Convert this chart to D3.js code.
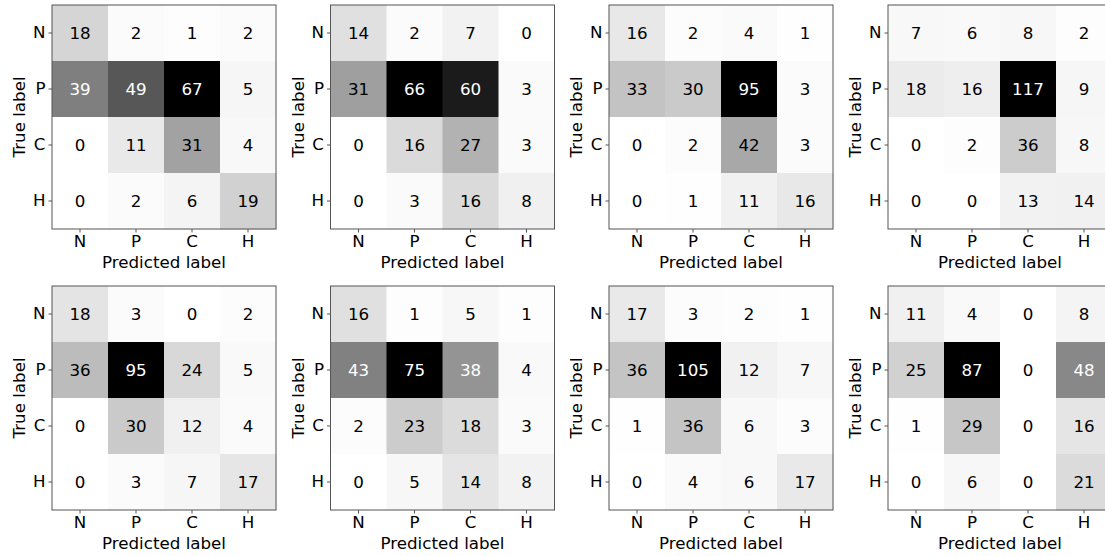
<!DOCTYPE html>
<html><head><meta charset="utf-8">
<script src="https://cdn.jsdelivr.net/npm/d3@7"></script>
<style>html,body{margin:0;padding:0;background:#fff;overflow:hidden}svg{display:block}</style>
</head><body>
<svg id="chart" width="1105" height="556"></svg>
<script>
const classLabels = ["N", "P", "C", "H"];
const xAxisTitle = "Predicted label";
const yAxisTitle = "True label";
const cm1 = [[18,2,1,2],[39,49,67,5],[0,11,31,4],[0,2,6,19]];
const cm2 = [[14,2,7,0],[31,66,60,3],[0,16,27,3],[0,3,16,8]];
const cm3 = [[16,2,4,1],[33,30,95,3],[0,2,42,3],[0,1,11,16]];
const cm4 = [[7,6,8,2],[18,16,117,9],[0,2,36,8],[0,0,13,14]];
const cm5 = [[18,3,0,2],[36,95,24,5],[0,30,12,4],[0,3,7,17]];
const cm6 = [[16,1,5,1],[43,75,38,4],[2,23,18,3],[0,5,14,8]];
const cm7 = [[17,3,2,1],[36,105,12,7],[1,36,6,3],[0,4,6,17]];
const cm8 = [[11,4,0,8],[25,87,0,48],[1,29,0,16],[0,6,0,21]];
const matrices = [cm1, cm2, cm3, cm4, cm5, cm6, cm7, cm8];

const greys = ["#ffffff","#f0f0f0","#d9d9d9","#bdbdbd","#969696","#737373","#525252","#252525","#000000"];

const svg = d3.select("#chart");
const FONT = "DejaVu Sans, sans-serif";
const FS = 16.7;
const size = 224;
const colX = [52, 330.5, 609, 888];
const rowY = [5, 286];

matrices.forEach((cm, k) => {
  const ox = colX[k % 4], oy = rowY[Math.floor(k / 4)];
  const g = svg.append("g").attr("transform", `translate(${ox},${oy})`);
  const x = d3.scaleBand().domain(classLabels).range([0, size]);
  const y = d3.scaleBand().domain(classLabels).range([0, size]);
  const flat = cm.flat();
  const mn = d3.min(flat), mx = d3.max(flat);
  const color = d3.scaleLinear().domain(d3.range(9).map(i => mn + (mx - mn) * i / 8)).range(greys).clamp(true);
  const thresh = (mx + mn) / 2;
  const cells = [];
  cm.forEach((row, i) => row.forEach((v, j) => cells.push({r: classLabels[i], c: classLabels[j], v})));
  g.selectAll("rect.cell").data(cells).enter().append("rect")
    .attr("x", d => x(d.c)).attr("y", d => y(d.r))
    .attr("width", x.bandwidth() + 0.5).attr("height", y.bandwidth() + 0.5)
    .attr("fill", d => color(d.v));
  g.selectAll("text.val").data(cells).enter().append("text")
    .attr("x", d => x(d.c) + x.bandwidth() / 2).attr("y", d => y(d.r) + y.bandwidth() / 2)
    .attr("text-anchor", "middle").attr("dominant-baseline", "central")
    .attr("font-family", FONT).attr("font-size", FS)
    .attr("fill", d => d.v < thresh ? "#000" : "#fff")
    .text(d => d.v);
  g.append("rect").attr("x", 0).attr("y", 0).attr("width", size).attr("height", size)
    .attr("fill", "none").attr("stroke", "#555").attr("stroke-width", 1);
  const xa = g.append("g").attr("transform", `translate(0,${size})`)
    .call(d3.axisBottom(x).tickSize(3.5).tickPadding(3));
  const ya = g.append("g").call(d3.axisLeft(y).tickSize(3.5).tickPadding(3));
  [xa, ya].forEach(a => {
    a.select(".domain").remove();
    a.selectAll("line").attr("stroke", "#555");
    a.selectAll("text").attr("font-family", FONT).attr("font-size", FS).attr("fill", "#000");
  });
  g.append("text").attr("x", size / 2).attr("y", size + 39)
    .attr("text-anchor", "middle").attr("font-family", FONT).attr("font-size", FS)
    .text(xAxisTitle);
  g.append("text").attr("transform", `translate(-27,${size / 2}) rotate(-90)`)
    .attr("text-anchor", "middle").attr("font-family", FONT).attr("font-size", FS)
    .text(yAxisTitle);
});
</script>
</body></html>
